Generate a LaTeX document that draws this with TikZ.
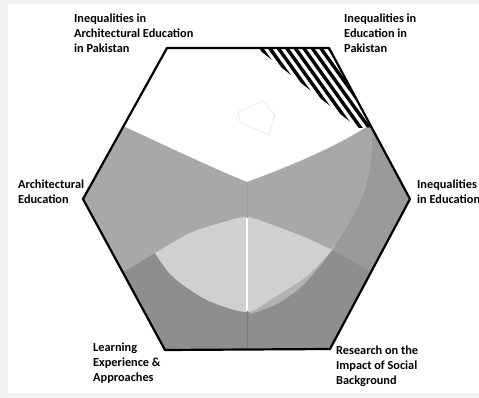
\documentclass[tikz,border=0pt]{standalone}
\usepackage{fontspec}
\setmainfont{Carlito}
\definecolor{medg}{HTML}{A8A8A8}
\definecolor{rightg}{HTML}{9A9A9A}
\definecolor{darkg}{HTML}{8E8E8E}
\definecolor{lensg}{HTML}{D0D0D0}
\definecolor{bandg}{HTML}{B2B2B2}
\definecolor{frameg}{HTML}{F2F2F2}
\begin{document}
\begin{tikzpicture}[x=1pt,y=-1pt,
  lbl/.style={anchor=north west, inner sep=0pt, align=left,
    font=\fontsize{12.3}{14.8}\selectfont\bfseries},
  hexline/.style={line width=2.2pt, line join=miter},
  stripe/.style={line width=3.4pt, black}]
\fill[frameg] (0,0) rectangle (479,398);
\fill[white] (8,4) rectangle (479,393);
\useasboundingbox (0,0) rectangle (479,398);
\coordinate (H1) at (167,48);
\coordinate (H2) at (329,48);
\coordinate (H3) at (410,199);
\coordinate (H4) at (330,349);
\coordinate (H5) at (165,350);
\coordinate (H6) at (83,199);
\begin{scope}
  \clip (H1)--(H2)--(H3)--(H4)--(H5)--(H6)--cycle;
  \fill[white] (60,40) rectangle (430,370);
  % medium grey below the white top
  \fill[medg] (60,96) -- (123,126) .. controls (160,143) and (210,167) .. (247,182)
     .. controls (285,168) and (330,150) .. (368,126) -- (430,110) -- (430,380) -- (60,380) -- cycle;
  % right grey beyond the big arc
  \fill[rightg] plot[smooth] coordinates {(368,112) (372,138) (371,160) (365,190) (353,217) (333,248) (305,281) (275,303) (252,313)}
     -- (252,380) -- (430,380) -- (430,112) -- cycle;
  % lower dark grey
  \fill[darkg] plot[smooth] coordinates {(95,288) (127,270) (155,253) (190,233) (223,222) (247,217) (273,225) (307,238) (332,250) (367,270) (400,290)}
     -- (400,380) -- (95,380) -- cycle;
  % lighter band
  \fill[bandg] plot[smooth] coordinates {(336,245) (320,266) (300,288) (275,305) (250,314)} -- (247,300) -- cycle;
  % lens
  \fill[lensg] plot[smooth] coordinates {(155,253) (190,233) (223,222) (247,217) (273,225) (307,238) (332,250)}
     -- plot[smooth] coordinates {(332,250) (307,276) (273,298) (247,312) (207,300) (173,277) (155,253)} -- cycle;
  % centre lines
  \draw[color=gray!75!white, line width=0.8pt] (247,182) -- (247,218);
  \draw[color=darkg!85!black, line width=0.8pt] (247,311) -- (247,352);
  \draw[white, line width=1.3pt] (247,218) -- (247,311);
  % faint outline in the white area
  \draw[black!10, line width=0.6pt] (238,112) -- (263,101) -- (275,115) -- (269,135) -- (240,122) -- cycle;
  % hatched corner
  \begin{scope}
    \clip (253,45) -- (340,40) -- (380,127) -- (358,128) -- cycle;
    \fill[white] (240,35) rectangle (390,135);
    \foreach \x in {186,194.5,...,380} \draw[stripe] (\x,38) -- ++(70,98);
  \end{scope}
\end{scope}
\draw[hexline] (H1)--(H2)--(H3)--(H4)--(H5)--(H6)--cycle;
\node[lbl] (tl) at (74,14) {Inequalities in\\Architectural Education\\in Pakistan};
\node[lbl] (tr) at (344,14) {Inequalities in\\Education in\\Pakistan};
\node[lbl] (le) at (18,180) {Architectural\\Education};
\node[lbl] (ri) at (417,180) {Inequalities\\in Education};
\node[lbl] (bl) at (93,343) {Learning\\Experience \&\\Approaches};
\node[lbl] (br) at (336,346) {Research on the\\Impact of Social\\Background};
\end{tikzpicture}
\end{document}
